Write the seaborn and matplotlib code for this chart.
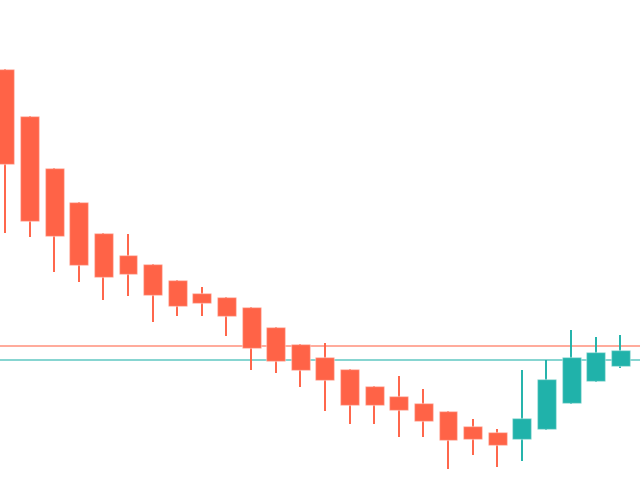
import numpy as np
import pandas as pd
import matplotlib
matplotlib.use("Agg")
import matplotlib.pyplot as plt
import seaborn as sns

# OHLC values
opens = [43.1, 38.4, 33.2, 29.8, 26.7, 24.5, 23.6, 22.0, 20.7, 20.3, 19.3, 17.3, 15.6,
         14.3, 13.1, 11.4, 10.4, 9.7, 8.9, 7.4, 6.8, 6.1, 7.1, 9.7, 11.9, 13.4]
highs = [43.1, 38.4, 33.2, 29.8, 26.7, 26.6, 23.6, 22.0, 21.3, 20.3, 19.3, 17.3, 15.6,
         15.7, 13.1, 11.4, 12.4, 11.1, 8.9, 8.1, 7.1, 13.0, 14.0, 17.0, 16.3, 16.5]
lows = [26.7, 26.3, 22.8, 21.8, 20.0, 20.4, 17.8, 18.4, 18.4, 16.4, 13.0, 12.7, 11.3,
        8.9, 7.6, 7.6, 6.3, 6.3, 3.1, 4.5, 3.3, 3.9, 7.0, 9.6, 11.8, 13.2]
closes = [33.6, 27.9, 26.4, 23.5, 22.3, 22.6, 20.5, 19.4, 19.7, 18.4, 15.2, 13.9, 13.0,
          12.0, 9.5, 9.5, 9.0, 7.9, 6.0, 6.1, 5.5, 8.2, 12.1, 14.3, 14.8, 15.0]

upper_level = 15.4
lower_level = 14.0

UP = "#20B2AA"
DOWN = "#FF6347"

df = pd.DataFrame({"open": opens, "high": highs, "low": lows, "close": closes})
df["x"] = np.arange(len(df))
df["up"] = df["close"] >= df["open"]
df["color"] = np.where(df["up"], UP, DOWN)

sns.set_theme(style="white")

fig = plt.figure(figsize=(6.4, 4.8), dpi=100)
ax = fig.add_axes([0, 0, 1, 1])

ax.axhline(upper_level, color=DOWN, alpha=0.55, lw=1.4, zorder=1)
ax.axhline(lower_level, color=UP, alpha=0.55, lw=1.4, zorder=1)

ax.vlines(df["x"], df["low"], df["high"], colors=df["color"], lw=1.4, zorder=2)
body_lo = df[["open", "close"]].min(axis=1)
body_h = (df["open"] - df["close"]).abs()
ax.bar(df["x"], body_h, bottom=body_lo, width=0.77, color=df["color"],
       edgecolor=[(1, 1, 1, 0.35)] * len(df), linewidth=1.0, zorder=3)

ax.set_xlim(-0.2, 25.8)
ax.set_ylim(2, 50)
ax.axis("off")

fig.savefig("out.png", dpi=100, facecolor="white")
